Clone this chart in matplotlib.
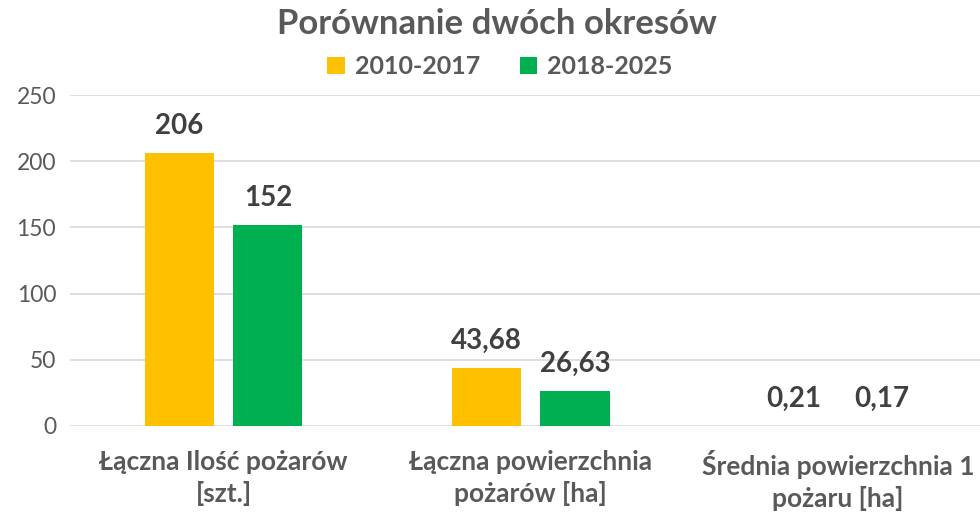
import numpy as np
import matplotlib.pyplot as plt

categories = ["Łączna Ilość pożarów\n[szt.]",
              "Łączna powierzchnia\npożarów [ha]",
              "Średnia powierzchnia 1\npożaru [ha]"]
series_names = ["2010-2017", "2018-2025"]
vals_2010 = [206, 43.68, 0.21]
vals_2018 = [152, 26.63, 0.17]
labels_2010 = ["206", "43,68", "0,21"]
labels_2018 = ["152", "26,63", "0,17"]

txt = "#595959"
plt.rcParams['font.family'] = ['Lato', 'DejaVu Sans']

fig = plt.figure(figsize=(9.8, 5.13), dpi=100)
ax = fig.add_axes([70 / 980, 1 - 426 / 513, 1 - 70 / 980, (426 - 95) / 513])

x = np.arange(len(categories))
w = 0.225
off = 0.144
b1 = ax.bar(x - off, vals_2010, w, color="#FFC000", label=series_names[0], zorder=3)
b2 = ax.bar(x + off, vals_2018, w, color="#00B050", label=series_names[1], zorder=3)

# etykiety danych nad slupkami
for bars, labs in ((b1, labels_2010), (b2, labels_2018)):
    for r, lab in zip(bars, labs):
        ax.annotate(lab, (r.get_x() + r.get_width() / 2, r.get_height()),
                    xytext=(0, 10), textcoords="offset points", ha="center", va="bottom",
                    fontsize=20, fontweight="bold", color="#404040")

ax.set_xlim(-0.5, (980 - 224) / 307)
ax.set_ylim(0, 250)
ax.set_yticks([0, 50, 100, 150, 200, 250])
ax.yaxis.grid(True, color="#D9D9D9", lw=1.2, zorder=0)
ax.set_axisbelow(True)
for s in ax.spines.values():
    s.set_visible(False)
ax.tick_params(axis="y", length=0, pad=10, labelsize=16.5, labelcolor=txt)
ax.tick_params(axis="x", length=0, pad=17)
ax.set_xticks(x)
ax.set_xticklabels(categories, fontsize=19, fontweight="bold", color=txt, linespacing=1.33)

fig.text(497 / 980, 1 - 24 / 513, "Porównanie dwóch okresów", ha="center", va="center",
         fontsize=25, fontweight="bold", color=txt)
fig.legend(loc="center", bbox_to_anchor=(500 / 980, 1 - 67 / 513), ncol=2, frameon=False,
           prop={"size": 18, "weight": "bold"}, labelcolor=txt, handlelength=0.7,
           handleheight=0.7, handletextpad=0.4, columnspacing=1.6)

fig.savefig("out.png", dpi=100)
